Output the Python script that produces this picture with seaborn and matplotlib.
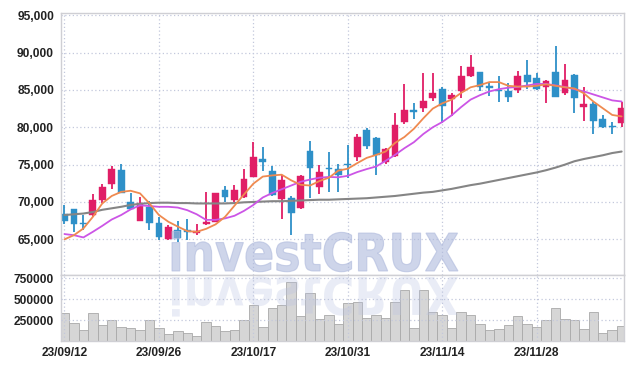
import numpy as np
import pandas as pd
import matplotlib
matplotlib.use("Agg")
import matplotlib.pyplot as plt
import seaborn as sns
from matplotlib.textpath import TextPath
from matplotlib.patches import PathPatch
from matplotlib.font_manager import FontProperties
from matplotlib.transforms import Affine2D
from matplotlib.ticker import FuncFormatter, MultipleLocator

dates = ["23/09/12", "23/09/13", "23/09/14", "23/09/15", "23/09/18", "23/09/19", "23/09/20", "23/09/21", "23/09/22", "23/09/25",
         "23/09/26", "23/09/27", "23/10/04", "23/10/05", "23/10/06", "23/10/10", "23/10/11", "23/10/12", "23/10/13", "23/10/16",
         "23/10/17", "23/10/18", "23/10/19", "23/10/20", "23/10/23", "23/10/24", "23/10/25", "23/10/26", "23/10/27", "23/10/30",
         "23/10/31", "23/11/01", "23/11/02", "23/11/03", "23/11/06", "23/11/07", "23/11/08", "23/11/09", "23/11/10", "23/11/13",
         "23/11/14", "23/11/15", "23/11/16", "23/11/17", "23/11/20", "23/11/21", "23/11/22", "23/11/23", "23/11/24", "23/11/27",
         "23/11/28", "23/11/29", "23/11/30", "23/12/01", "23/12/04", "23/12/05", "23/12/06", "23/12/07", "23/12/08", "23/12/11"]

opens = [68400, 69000, 67200, 68300, 70300, 72400, 74300, 70000, 67500, 69300,
         67200, 65000, 66250, 66200, 65900, 67050, 67350, 71600, 70200, 70650,
         73400, 75750, 74150, 70350, 70500, 69150, 76850, 72000, 74600, 74400,
         75100, 76050, 79650, 78550, 75400, 76150, 80650, 82350, 82550, 83950,
         85100, 83800, 84800, 86800, 87400, 85550, 85000, 84800, 85000, 87000,
         86550, 85450, 87400, 84550, 87000, 82750, 83100, 81100, 80200, 80600]
closes = [67500, 67100, 67050, 70250, 72050, 74400, 71250, 69100, 69800, 67200,
          65300, 66600, 65150, 66000, 66100, 67350, 71150, 70700, 71600, 73050,
          76000, 75400, 70950, 72950, 68500, 73500, 74500, 74000, 74400, 73600,
          74950, 78650, 77500, 76300, 77050, 80300, 82350, 82100, 83550, 84550,
          82850, 84350, 86900, 88050, 85450, 85300, 84850, 84100, 86900, 86000,
          85100, 86200, 84100, 86350, 83900, 83100, 80900, 80100, 80000, 82550]
highs = [69600, 69100, 68250, 71050, 72400, 74800, 75050, 71150, 70600, 70100,
         68000, 66900, 67500, 67700, 67050, 71400, 71250, 72150, 72250, 74400,
         78050, 77300, 74800, 73600, 70800, 73600, 78100, 74950, 76750, 75050,
         77650, 79100, 79900, 78700, 77200, 81950, 85800, 83300, 87250, 87250,
         85350, 84650, 88150, 89700, 87450, 86100, 86900, 85900, 87600, 88950,
         87300, 86350, 90900, 88500, 87100, 85450, 83450, 81650, 80750, 83450]
lows = [67050, 66000, 66250, 68000, 69900, 71700, 71200, 69000, 67400, 66300,
        64900, 64850, 64700, 64900, 65600, 66900, 67300, 70000, 70050, 70500,
        73300, 74150, 70800, 67700, 65600, 69100, 70500, 71050, 71400, 71400,
        73200, 75550, 77050, 73600, 75100, 76050, 80450, 81050, 82100, 83550,
        80600, 81450, 83900, 86700, 84800, 84200, 83450, 83450, 84550, 85100,
        85000, 83300, 84050, 84350, 81900, 80900, 79100, 79850, 79100, 80000]

volumes = [331000, 212000, 128000, 331000, 188000, 248000, 168000, 152000, 128000, 248000,
           152000, 80000, 120000, 96000, 56000, 227000, 176000, 120000, 128000, 248000,
           431000, 168000, 391000, 431000, 710000, 299000, 571000, 260000, 307000, 207000,
           451000, 467000, 272000, 307000, 272000, 467000, 607000, 152000, 607000, 347000,
           311000, 152000, 347000, 311000, 207000, 128000, 140000, 188000, 295000, 207000,
           168000, 251000, 391000, 260000, 248000, 140000, 347000, 92000, 128000, 176000]

ma5 = [65000, 65550, 66450, 68000, 69800, 70800, 71350, 71500, 71150, 69800,
       68250, 67350, 66700, 66100, 66000, 66400, 67000, 68000, 69500, 71000,
       72450, 73400, 73550, 73650, 72900, 72300, 72200, 72800, 73250, 74200,
       74450, 75200, 75900, 76300, 76750, 77900, 78700, 79800, 81200, 82500,
       83200, 83700, 84600, 85350, 85650, 86050, 86050, 85550, 85450, 85450,
       85550, 85750, 85550, 85350, 85200, 84550, 83450, 82550, 81650, 81450]
ma20 = [65700, 65550, 65250, 66000, 66800, 67650, 68250, 69000, 69550, 69450,
        69350, 69350, 69250, 68900, 68350, 67600, 67600, 67800, 68150, 68800,
        69600, 70600, 71200, 71700, 72200, 72700, 73000, 73250, 73350, 73300,
        73500, 74000, 74400, 74750, 75500, 76300, 77200, 78000, 79100, 80000,
        80700, 81600, 82700, 83700, 84300, 84800, 85100, 85300, 85400, 85600,
        85800, 85800, 85600, 85400, 85100, 84800, 84400, 84000, 83600, 83450]
ma60 = [68250, 68350, 68450, 68650, 68950, 69150, 69350, 69600, 69750, 69850,
        69900, 69900, 69850, 69850, 69800, 69800, 69800, 69800, 69850, 69950,
        70000, 70050, 70100, 70100, 70150, 70200, 70250, 70300, 70300, 70350,
        70400, 70450, 70500, 70600, 70700, 70800, 70950, 71100, 71250, 71350,
        71550, 71750, 72000, 72250, 72450, 72700, 72950, 73200, 73450, 73700,
        73950, 74250, 74600, 75000, 75450, 75750, 76000, 76250, 76550, 76750]

tick_idx = [0, 10, 20, 30, 40, 50]

df = pd.DataFrame({"i": np.arange(len(dates)), "open": opens, "close": closes,
                   "high": highs, "low": lows, "vol": volumes,
                   "ma5": ma5, "ma20": ma20, "ma60": ma60})

sns.set_style("white")
plt.rcParams['font.family'] = ['Liberation Sans', 'DejaVu Sans']

UP = '#e01e66'
DOWN = '#2e90c8'
GRID = '#c3c8dc'
SPINE = '#cfcfd4'

fig = plt.figure(figsize=(6.34, 3.69), dpi=100)
W, H = 634, 369
ax = fig.add_axes([61 / W, 1 - 275 / H, 563 / W, 262 / H])
axv = fig.add_axes([61 / W, 1 - 341 / H, 563 / W, 66 / H])

# candles
up = df["close"] >= df["open"]
colors = np.where(up, UP, DOWN)
body_lo = np.minimum(df["open"], df["close"])
body_h = np.maximum((df["close"] - df["open"]).abs(), 150)
ax.vlines(df["i"], df["low"], df["high"], colors=colors, linewidth=1.3, zorder=2)
ax.bar(df["i"], body_h, bottom=body_lo, width=0.72, color=colors, zorder=2.5,
       edgecolor=colors, linewidth=0.3)

# moving averages
sns.lineplot(data=df, x="i", y="ma60", ax=ax, color='#858585', linewidth=1.5, zorder=3)
sns.lineplot(data=df, x="i", y="ma20", ax=ax, color='#cc55e6', linewidth=1.3, zorder=3)
sns.lineplot(data=df, x="i", y="ma5", ax=ax, color='#ef8a50', linewidth=1.3, zorder=3)

ax.set_xlim(-0.37, 59.25)
ax.set_ylim(60220, 95300)
ax.yaxis.set_major_locator(MultipleLocator(5000))
ax.yaxis.set_major_formatter(FuncFormatter(lambda v, p: f"{int(v):,}"))
ax.set_xticks(tick_idx)
ax.tick_params(labelbottom=False, length=0, labelsize=8.6, labelcolor='#222222', pad=5)
ax.set_xlabel("")
ax.set_ylabel("")
ax.grid(True, color=GRID, linestyle=(0, (1, 2)), linewidth=0.9)

# volume
sns.barplot(data=df, x="i", y="vol", ax=axv, color='#d6d6d6', width=1.0,
            edgecolor='#a9a9a9', linewidth=0.6, saturation=1)
axv.set_xlim(-0.37, 59.25)
axv.set_ylim(0, 790000)
axv.set_yticks([250000, 500000, 750000])
axv.set_yticklabels(["250000", "500000", "750000"])
axv.set_xticks(tick_idx)
axv.set_xticklabels([dates[i] for i in tick_idx])
axv.tick_params(length=0, labelsize=8.6, labelcolor='#222222', pad=5)
axv.tick_params(axis='x', pad=4)
axv.set_xlabel("")
axv.set_ylabel("")
axv.grid(True, color=GRID, linestyle=(0, (1, 2)), linewidth=0.9)
axv.set_axisbelow(False)
for b in axv.patches:
    b.set_zorder(1)
for gl in axv.get_xgridlines() + axv.get_ygridlines():
    gl.set_zorder(2)

for a in (ax, axv):
    for s in a.spines.values():
        s.set_color(SPINE)
        s.set_linewidth(1.0)
    for lab in a.get_xticklabels() + a.get_yticklabels():
        lab.set_fontweight('bold')

# watermark with reflection
fp = FontProperties(family='DejaVu Sans', weight='bold')
tp = TextPath((0, 0), "investCRUX", size=100, prop=fp)
bb = tp.get_extents()
sx = 286 / bb.width
sy = 38 / 73.0
main_tr = Affine2D().translate(-bb.x0, 0).scale(sx, sy).translate(172, H - 271)
refl_tr = Affine2D().translate(-bb.x0, 0).scale(sx, -sy).translate(172, H - 277)
fig.add_artist(PathPatch(tp, transform=main_tr, facecolor='#aeb9dc', edgecolor='#aeb9dc',
                         linewidth=0.8, alpha=0.6, zorder=5))
fig.add_artist(PathPatch(tp, transform=refl_tr, facecolor='#b9c2e2', edgecolor='none', alpha=0.3, zorder=5))

fig.savefig("out.png", dpi=100)
